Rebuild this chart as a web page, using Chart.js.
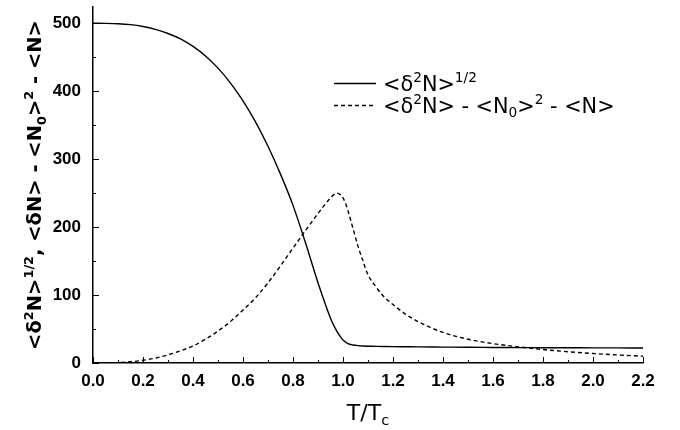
<!DOCTYPE html>
<html>
<head>
<meta charset="utf-8">
<script src="https://cdn.jsdelivr.net/npm/chart.js@4.4.0/dist/chart.umd.min.js"></script>
<style>
  html, body { margin: 0; padding: 0; background: #fff; }
</style>
</head>
<body>
<canvas id="fluct" width="680" height="430"></canvas>
<script>
// T/Tc sample points
var temps      = [0.0, 0.05, 0.1, 0.15, 0.2, 0.25, 0.3, 0.35, 0.4, 0.45, 0.5, 0.55, 0.6, 0.65, 0.7, 0.75, 0.8, 0.85, 0.9, 0.95, 0.975, 0.99, 1.0, 1.01, 1.02, 1.04, 1.06, 1.08, 1.1, 1.13, 1.16, 1.2, 1.25, 1.3, 1.4, 1.5, 1.6, 1.7, 1.8, 1.9, 2.0, 2.1, 2.2];
// <d2N>^1/2 (solid)
var rmsFluct   = [500, 499.9, 499.4, 498, 495.3, 491, 485, 477, 466, 452, 434, 412, 386, 355, 319, 278, 232, 177, 118, 66, 47, 38.5, 34, 31, 28.5, 26.5, 25.5, 25, 24.7, 24.5, 24.3, 24.1, 23.9, 23.7, 23.4, 23.1, 22.9, 22.7, 22.5, 22.4, 22.3, 22.2, 22.1];
// <d2N> - <N0>^2 - <N> (dashed)
var extraFluct = [0, 0.1, 0.6, 1.8, 4, 7.3, 12, 18, 25, 35, 47, 61, 78, 96, 118, 143, 169, 195, 220, 243, 250, 247.5, 243, 235, 224, 198, 172, 150, 130, 113, 99, 86, 72, 61, 45, 35, 28.5, 23.8, 19.8, 16.6, 14, 11.8, 10];

var xTickValues = [0.0, 0.2, 0.4, 0.6, 0.8, 1.0, 1.2, 1.4, 1.6, 1.8, 2.0, 2.2];
var yTickValues = [0, 100, 200, 300, 400, 500];
var xLimits = [0, 2.2];
var yLimits = [0, 524];

// rich text pieces: [text, '' | 'sup' | 'sub']
var yTitleParts = [['<\u03b4', ''], ['2', 'sup'], ['N>', ''], ['1/2', 'sup'], [', <\u03b4N> - <N', ''], ['0', 'sub'], ['>', ''], ['2', 'sup'], [' - <N>', '']];
var xTitleParts = [['T/T', ''], ['c', 'sub']];
var legendParts = [
    [['<\u03b4', ''], ['2', 'sup'], ['N>', ''], ['1/2', 'sup']],
    [['<\u03b4', ''], ['2', 'sup'], ['N> - <N', ''], ['0', 'sub'], ['>', ''], ['2', 'sup'], [' - <N>', '']]
];

function richWidth(ctx, parts, size, weight, family) {
    var w = 0;
    parts.forEach(function (p) {
        ctx.font = weight + ' ' + (p[1] ? size * 0.66 : size) + 'px ' + family;
        w += ctx.measureText(p[0]).width;
    });
    return w;
}

function drawRich(ctx, parts, x, y, size, weight, family) {
    var cx = x;
    parts.forEach(function (p) {
        var s = p[1] ? size * 0.66 : size;
        var dy = p[1] === 'sup' ? -size * 0.4 : (p[1] === 'sub' ? size * 0.24 : 0);
        ctx.font = weight + ' ' + s + 'px ' + family;
        ctx.fillText(p[0], cx, y + dy);
        cx += ctx.measureText(p[0]).width;
    });
}

// inward major/minor tick marks, titles and legend
var decorations = {
    id: 'decorations',
    afterDraw: function (chart) {
        var ctx = chart.ctx, a = chart.chartArea;
        var xs = chart.scales.x, ys = chart.scales.y;
        ctx.save();
        ctx.strokeStyle = '#000';
        ctx.lineWidth = 1;
        ctx.beginPath();
        var xt = xs.ticks.map(function (t) { return t.value; });
        xt.forEach(function (v, i) {
            var px = Math.round(xs.getPixelForValue(v)) + 0.5;
            ctx.moveTo(px, a.bottom); ctx.lineTo(px, a.bottom - 6);
            if (i < xt.length - 1) {
                var mx = Math.round(xs.getPixelForValue((v + xt[i + 1]) / 2)) + 0.5;
                ctx.moveTo(mx, a.bottom); ctx.lineTo(mx, a.bottom - 3);
            }
        });
        var yt = ys.ticks.map(function (t) { return t.value; });
        yt.forEach(function (v, i) {
            var py = Math.round(ys.getPixelForValue(v)) + 0.5;
            ctx.moveTo(a.left, py); ctx.lineTo(a.left + 6, py);
            if (i < yt.length - 1) {
                var my = Math.round(ys.getPixelForValue((v + yt[i + 1]) / 2)) + 0.5;
                ctx.moveTo(a.left, my); ctx.lineTo(a.left + 3, my);
            }
        });
        ctx.stroke();

        ctx.fillStyle = '#000';
        ctx.textBaseline = 'alphabetic';
        ctx.textAlign = 'left';

        // y title, rotated
        var ySize = 19.5, yFam = '"DejaVu Sans"';
        var yw = richWidth(ctx, yTitleParts, ySize, 'bold', yFam);
        ctx.save();
        ctx.translate(34, (a.top + a.bottom) / 2);
        ctx.rotate(-Math.PI / 2);
        drawRich(ctx, yTitleParts, -yw / 2, ySize * 0.36, ySize, 'bold', yFam);
        ctx.restore();

        // x title
        var xSize = 22, xFam = '"DejaVu Sans"';
        var xw = richWidth(ctx, xTitleParts, xSize, 'normal', xFam);
        drawRich(ctx, xTitleParts, (a.left + a.right) / 2 - xw / 2, 420, xSize, 'normal', xFam);

        // legend
        var lx = 334, ly = [83, 105];
        chart.data.datasets.forEach(function (ds, i) {
            ctx.save();
            ctx.strokeStyle = ds.borderColor;
            ctx.lineWidth = ds.borderWidth;
            ctx.setLineDash(ds.borderDash || []);
            ctx.beginPath();
            ctx.moveTo(lx, ly[i] + 0.5);
            ctx.lineTo(lx + 42, ly[i] + 0.5);
            ctx.stroke();
            ctx.restore();
            drawRich(ctx, legendParts[i], 383, ly[i] + 7.5, 20.8, 'normal', '"DejaVu Sans"');
        });
        ctx.restore();
    }
};

function points(vals) {
    return temps.map(function (t, i) { return { x: t, y: vals[i] }; });
}

var tickFont = { family: '"Liberation Sans", Arial, sans-serif', size: 17, weight: 'bold' };

new Chart(document.getElementById('fluct'), {
    type: 'line',
    data: {
        datasets: [
            { data: points(rmsFluct), borderColor: '#000', borderWidth: 1.4, pointRadius: 0, fill: false, cubicInterpolationMode: 'monotone' },
            { data: points(extraFluct), borderColor: '#000', borderWidth: 1.4, borderDash: [4, 3], pointRadius: 0, fill: false, cubicInterpolationMode: 'monotone' }
        ]
    },
    options: {
        responsive: false,
        animation: false,
        devicePixelRatio: 1,
        layout: { padding: { top: 7, right: 37, left: 0, bottom: 0 } },
        plugins: { legend: { display: false }, tooltip: { enabled: false } },
        scales: {
            x: {
                type: 'linear',
                min: xLimits[0], max: xLimits[1],
                afterBuildTicks: function (s) { s.ticks = xTickValues.map(function (v) { return { value: v }; }); },
                afterFit: function (s) { s.height = 67; s.paddingLeft = 0; s.paddingRight = 0; },
                grid: { display: false, drawTicks: false },
                border: { display: true, color: '#000', width: 1.5 },
                ticks: { color: '#000', font: tickFont, padding: 8, maxRotation: 0, autoSkip: false,
                         callback: function (v) { return v.toFixed(1); } }
            },
            y: {
                type: 'linear',
                min: yLimits[0], max: yLimits[1],
                afterBuildTicks: function (s) { s.ticks = yTickValues.map(function (v) { return { value: v }; }); },
                afterFit: function (s) { s.width = 93; s.paddingTop = 0; s.paddingBottom = 0; },
                grid: { display: false, drawTicks: false },
                border: { display: true, color: '#000', width: 1.5 },
                ticks: { color: '#000', font: tickFont, padding: 12 }
            }
        }
    },
    plugins: [decorations]
});
</script>
</body>
</html>
